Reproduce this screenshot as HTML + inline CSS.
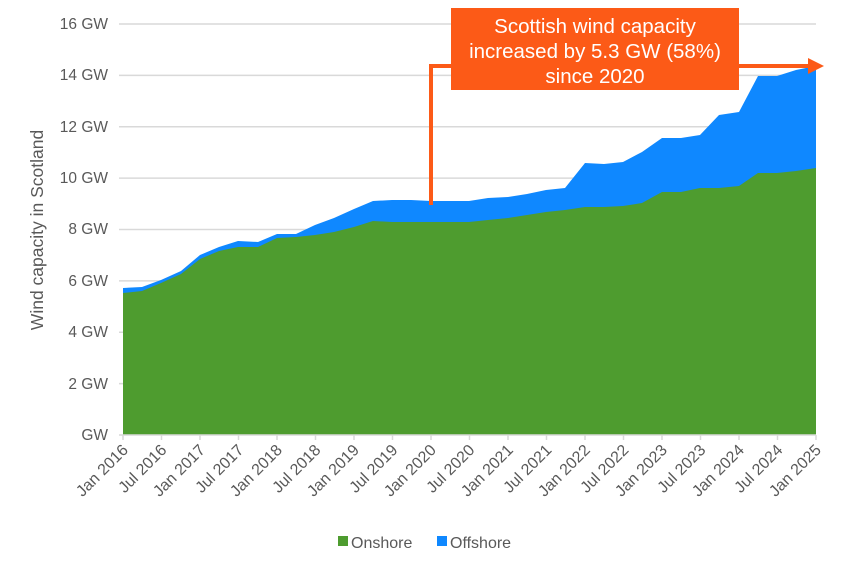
<!DOCTYPE html>
<html><head><meta charset="utf-8"><style>body{margin:0;background:#fff}svg{display:block}text{font-family:"Liberation Sans",sans-serif;fill:#595959}</style></head>
<body>
<svg width="853" height="571" viewBox="0 0 853 571">
<g stroke="#d9d9d9" stroke-width="1.5">
<line x1="119" x2="816" y1="24" y2="24"/><line x1="119" x2="816" y1="75.4" y2="75.4"/><line x1="119" x2="816" y1="126.8" y2="126.8"/><line x1="119" x2="816" y1="178.1" y2="178.1"/><line x1="119" x2="816" y1="229.5" y2="229.5"/><line x1="119" x2="816" y1="280.9" y2="280.9"/><line x1="119" x2="816" y1="332.3" y2="332.3"/><line x1="119" x2="816" y1="383.6" y2="383.6"/>
</g>
<g font-size="15.5" text-anchor="end">
<text x="108" y="29">16 GW</text><text x="108" y="80">14 GW</text><text x="108" y="132">12 GW</text><text x="108" y="183">10 GW</text><text x="108" y="234">8 GW</text><text x="108" y="286">6 GW</text><text x="108" y="337">4 GW</text><text x="108" y="389">2 GW</text><text x="108" y="440">GW</text>
</g>
<text transform="translate(43,230) rotate(-90)" font-size="17.5" text-anchor="middle">Wind capacity in Scotland</text>
<polygon fill="#0f88ff" points="123,435 123,288 142,287 161,280 181,271 200,255 219,247 238,241 258,242 277,234 296,234 315,225 334,218 354,209 373,201 392,200 411,200 431,201 450,201 469,201 488,198 508,197 527,194 546,190 565,188 585,163 604,164 623,162 642,152 662,138 681,138 700,135 719,115 739,112 758,76 777,76 796,70 816,66 816,435"/>
<polygon fill="#4e9c2f" points="123,435 123,293 142,291 161,283 181,274 200,259 219,251 238,247 258,247 277,238 296,237 315,235 334,232 354,227 373,221 392,222 411,222 431,222 450,222 469,222 488,220 508,218 527,215 546,212 565,210 585,207 604,207 623,206 642,203 662,192 681,192 700,188 719,188 739,186 758,173 777,173 796,171 816,168 816,435"/>
<line x1="119" x2="816" y1="435" y2="435" stroke="#d9d9d9" stroke-width="1.5"/>
<g stroke="#d9d9d9" stroke-width="1.5">
<line x1="123" x2="123" y1="435" y2="440"/><line x1="161.5" x2="161.5" y1="435" y2="440"/><line x1="200" x2="200" y1="435" y2="440"/><line x1="238.5" x2="238.5" y1="435" y2="440"/><line x1="277" x2="277" y1="435" y2="440"/><line x1="315.5" x2="315.5" y1="435" y2="440"/><line x1="354" x2="354" y1="435" y2="440"/><line x1="392.5" x2="392.5" y1="435" y2="440"/><line x1="431" x2="431" y1="435" y2="440"/><line x1="469.5" x2="469.5" y1="435" y2="440"/><line x1="508" x2="508" y1="435" y2="440"/><line x1="546.5" x2="546.5" y1="435" y2="440"/><line x1="585" x2="585" y1="435" y2="440"/><line x1="623.5" x2="623.5" y1="435" y2="440"/><line x1="662" x2="662" y1="435" y2="440"/><line x1="700.5" x2="700.5" y1="435" y2="440"/><line x1="739" x2="739" y1="435" y2="440"/><line x1="777.5" x2="777.5" y1="435" y2="440"/><line x1="816" x2="816" y1="435" y2="440"/>
</g>
<g font-size="16" text-anchor="end">
<text transform="translate(129,451) rotate(-45)">Jan 2016</text>
<text transform="translate(167.5,451) rotate(-45)">Jul 2016</text>
<text transform="translate(206,451) rotate(-45)">Jan 2017</text>
<text transform="translate(244.5,451) rotate(-45)">Jul 2017</text>
<text transform="translate(283,451) rotate(-45)">Jan 2018</text>
<text transform="translate(321.5,451) rotate(-45)">Jul 2018</text>
<text transform="translate(360,451) rotate(-45)">Jan 2019</text>
<text transform="translate(398.5,451) rotate(-45)">Jul 2019</text>
<text transform="translate(437,451) rotate(-45)">Jan 2020</text>
<text transform="translate(475.5,451) rotate(-45)">Jul 2020</text>
<text transform="translate(514,451) rotate(-45)">Jan 2021</text>
<text transform="translate(552.5,451) rotate(-45)">Jul 2021</text>
<text transform="translate(591,451) rotate(-45)">Jan 2022</text>
<text transform="translate(629.5,451) rotate(-45)">Jul 2022</text>
<text transform="translate(668,451) rotate(-45)">Jan 2023</text>
<text transform="translate(706.5,451) rotate(-45)">Jul 2023</text>
<text transform="translate(745,451) rotate(-45)">Jan 2024</text>
<text transform="translate(783.5,451) rotate(-45)">Jul 2024</text>
<text transform="translate(822,451) rotate(-45)">Jan 2025</text>
</g>
<rect x="338" y="536" width="10" height="10" fill="#4e9c2f"/>
<text x="351" y="548" font-size="16">Onshore</text>
<rect x="437" y="536" width="10" height="10" fill="#0f88ff"/>
<text x="450" y="548" font-size="16">Offshore</text>
<polyline points="431,205 431,66 812,66" fill="none" stroke="#fc5a17" stroke-width="4"/>
<polygon points="808,58 824,66 808,74" fill="#fc5a17"/>
<rect x="451" y="8" width="288" height="82" fill="#fc5a17"/>
<g font-size="20.5" text-anchor="middle">
<text x="595" y="33" style="fill:#fff">Scottish wind capacity</text>
<text x="595" y="58" style="fill:#fff">increased by 5.3 GW (58%)</text>
<text x="595" y="83" style="fill:#fff">since 2020</text>
</g>
</svg>
</body></html>
